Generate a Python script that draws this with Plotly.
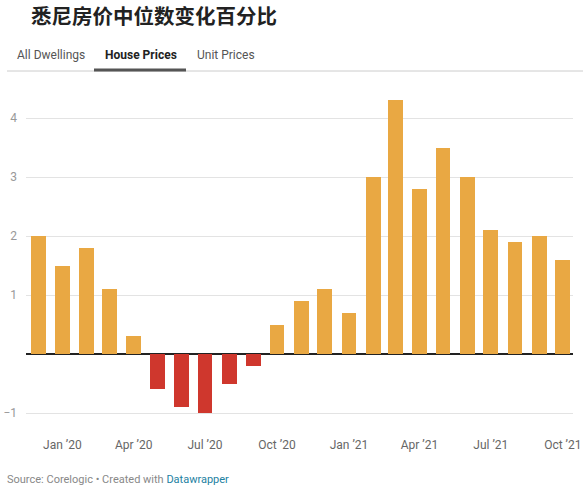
import plotly.graph_objects as go

months = ["2019-12-01", "2020-01-01", "2020-02-01", "2020-03-01", "2020-04-01", "2020-05-01",
          "2020-06-01", "2020-07-01", "2020-08-01", "2020-09-01", "2020-10-01", "2020-11-01",
          "2020-12-01", "2021-01-01", "2021-02-01", "2021-03-01", "2021-04-01", "2021-05-01",
          "2021-06-01", "2021-07-01", "2021-08-01", "2021-09-01", "2021-10-01"]
values = [2.0, 1.5, 1.8, 1.1, 0.3, -0.6, -0.9, -1.0, -0.5, -0.2, 0.5, 0.9,
          1.1, 0.7, 3.0, 4.3, 2.8, 3.5, 3.0, 2.1, 1.9, 2.0, 1.6]
tick_dates = ["2020-01-01", "2020-04-01", "2020-07-01", "2020-10-01",
              "2021-01-01", "2021-04-01", "2021-07-01", "2021-10-01"]
tick_labels = ["Jan \u201920", "Apr \u201920", "Jul \u201920", "Oct \u201920",
               "Jan \u201921", "Apr \u201921", "Jul \u201921", "Oct \u201921"]
y_ticks = [-1, 1, 2, 3, 4]

ORANGE = "#E9A843"
RED = "#CF372D"
colors = [ORANGE if v >= 0 else RED for v in values]

W, H = 583, 494
L, R, T, B = 26, 573, 85, 436

def px(x):
    return (x - L) / (R - L)

def py(y):
    return (B - y) / (B - T)

fig = go.Figure()
fig.add_trace(go.Bar(
    x=months, y=values, marker_color=colors, marker_line_width=0,
    width=19 * 86400000, hoverinfo="skip"
))

fig.update_layout(
    width=W, height=H,
    margin=dict(l=L, r=W - R, t=T, b=H - B, pad=0, autoexpand=False),
    paper_bgcolor="white", plot_bgcolor="white",
    font=dict(family="Roboto, Noto Sans, sans-serif", color="#666"),
    showlegend=False,
    bargap=0,
    xaxis=dict(
        type="date",
        range=["2019-11-15 12:00", "2021-10-14"],
        tickvals=tick_dates, ticktext=tick_labels,
        showgrid=False, zeroline=False, showline=False,
        ticks="", automargin=False,
        tickfont=dict(size=12, color="#666"),
        fixedrange=True,
    ),
    yaxis=dict(
        range=[-(B - 354) / 59, (354 - T) / 59],
        tickvals=y_ticks,
        showgrid=True, gridcolor="#e3e3e3", gridwidth=1,
        zeroline=True, zerolinecolor="#222", zerolinewidth=1.5,
        showline=False, ticks="", automargin=False,
        tickfont=dict(size=12, color="#999"),
        ticklabelstandoff=8,
        fixedrange=True,
    ),
)

annotations = [
    dict(text="<b>悉尼房价中位数变化百分比</b>", x=px(29), y=py(15.5), xanchor="left", yanchor="middle",
         font=dict(family="Noto Sans CJK SC", size=20.5, color="#222")),
    dict(text="All Dwellings", x=px(15), y=py(55), xanchor="left", yanchor="middle",
         font=dict(size=12, color="#555")),
    dict(text="<b>House Prices</b>", x=px(103), y=py(55), xanchor="left", yanchor="middle",
         font=dict(size=12, color="#222")),
    dict(text="Unit Prices", x=px(195), y=py(55), xanchor="left", yanchor="middle",
         font=dict(size=12, color="#555")),
    dict(text="Source: Corelogic \u2022 Created with <span style='color:#1D81A2'>Datawrapper</span>",
         x=px(5), y=py(479), xanchor="left", yanchor="middle",
         font=dict(size=11, color="#888")),
]
for a in annotations:
    a.update(xref="paper", yref="paper", showarrow=False)
fig.update_layout(annotations=annotations)

fig.add_shape(type="line", xref="paper", yref="paper",
              x0=px(7), x1=px(583), y0=py(71), y1=py(71),
              line=dict(color="#ccc", width=1))
fig.add_shape(type="line", xref="paper", yref="paper",
              x0=px(94), x1=px(186), y0=py(70), y1=py(70),
              line=dict(color="#555", width=3))

fig.write_html("out.html", config={"displayModeBar": False})
